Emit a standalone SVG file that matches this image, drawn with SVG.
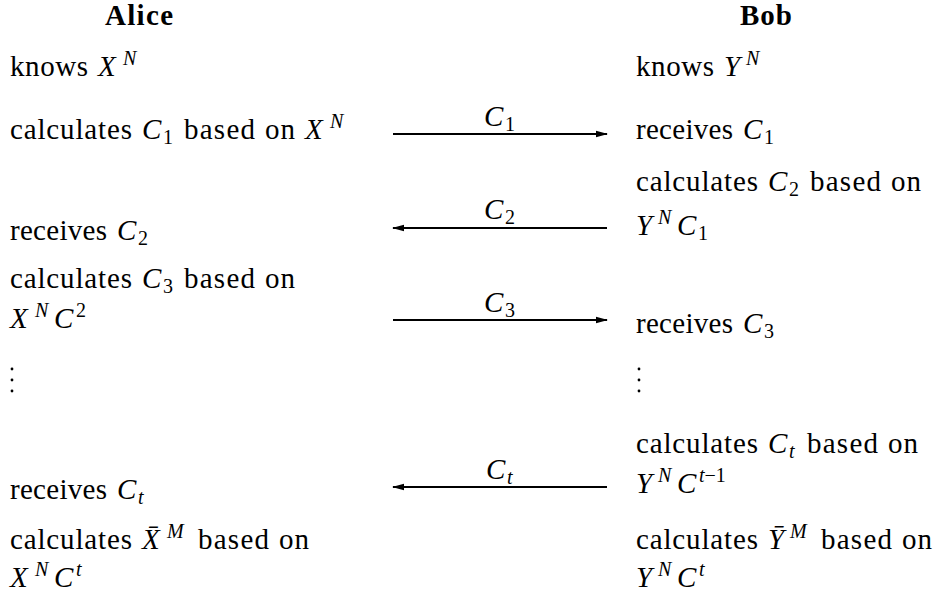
<svg xmlns="http://www.w3.org/2000/svg" width="943" height="592" viewBox="0 0 943 592">
<style>
text{font-size:29px;fill:#000}
.b{font-weight:bold}
.i{font-style:italic}
.s{font-size:20px}
.c{stroke:#000;stroke-width:2;fill:none}
</style>
<defs>
<marker id="ah" viewBox="0 0 12 8" refX="11" refY="4" markerWidth="12" markerHeight="8" markerUnits="userSpaceOnUse" orient="auto">
<path d="M0,0.8 L12,4 L0,7.2 Z" fill="#000"/>
</marker>
</defs>
<rect width="943" height="592" fill="#fff"/>
<g font-family="Liberation Serif, serif">
<g id="alice-header"><text class="b" x="139" y="25" text-anchor="middle" textLength="68">Alice</text></g>
<g id="bob-header"><text class="b" x="766" y="25" text-anchor="middle" textLength="52">Bob</text></g>

<g id="alice-knows"><text y="76"><tspan x="10" textLength="78">knows</tspan><tspan class="i" x="98">X</tspan><tspan class="i s" x="123" y="65">N</tspan></text></g>
<g id="bob-knows"><text y="76"><tspan x="636" textLength="78">knows</tspan><tspan class="i" x="724">Y</tspan><tspan class="i s" x="746" y="65">N</tspan></text></g>

<g id="alice-calc1"><text y="139"><tspan x="10" textLength="122">calculates</tspan><tspan class="i" x="142">C</tspan><tspan class="s" x="163" y="143.5">1</tspan><tspan x="184" y="139" textLength="71">based</tspan><tspan x="265" textLength="30">on</tspan><tspan class="i" x="305">X</tspan><tspan class="i s" x="330" y="128">N</tspan></text></g>
<g id="bob-recv1"><text y="139"><tspan x="636" textLength="97">receives</tspan><tspan class="i" x="743">C</tspan><tspan class="s" x="764" y="143.5">1</tspan></text></g>

<g id="bob-calc2"><text y="191"><tspan x="636" textLength="122">calculates</tspan><tspan class="i" x="768">C</tspan><tspan class="s" x="789" y="195.5">2</tspan><tspan x="810" y="191" textLength="71">based</tspan><tspan x="891" textLength="30">on</tspan></text>
<text y="235"><tspan class="i" x="636">Y</tspan><tspan class="i s" x="658" y="224">N</tspan><tspan class="i" x="677" y="235">C</tspan><tspan class="s" x="698" y="239.5">1</tspan></text></g>
<g id="alice-recv2"><text y="240"><tspan x="10" textLength="97">receives</tspan><tspan class="i" x="117">C</tspan><tspan class="s" x="138" y="244.5">2</tspan></text></g>

<g id="alice-calc3"><text y="288"><tspan x="10" textLength="122">calculates</tspan><tspan class="i" x="142">C</tspan><tspan class="s" x="163" y="292.5">3</tspan><tspan x="184" y="288" textLength="71">based</tspan><tspan x="265" textLength="30">on</tspan></text>
<text y="328"><tspan class="i" x="10">X</tspan><tspan class="i s" x="35" y="317">N</tspan><tspan class="i" x="54" y="328">C</tspan><tspan class="s" x="76" y="317">2</tspan></text></g>
<g id="bob-recv3"><text y="333"><tspan x="636" textLength="97">receives</tspan><tspan class="i" x="743">C</tspan><tspan class="s" x="764" y="337.5">3</tspan></text></g>

<g id="alice-dots"><circle cx="12" cy="369" r="1.4"/><circle cx="12" cy="380" r="1.4"/><circle cx="12" cy="391" r="1.4"/></g>
<g id="bob-dots"><circle cx="639" cy="369" r="1.4"/><circle cx="639" cy="380" r="1.4"/><circle cx="639" cy="391" r="1.4"/></g>

<g id="bob-calct"><text y="453"><tspan x="636" textLength="122">calculates</tspan><tspan class="i" x="768">C</tspan><tspan class="i s" x="789" y="457.5">t</tspan><tspan x="807" y="453" textLength="71">based</tspan><tspan x="888" textLength="30">on</tspan></text>
<text y="493"><tspan class="i" x="636">Y</tspan><tspan class="i s" x="658" y="482">N</tspan><tspan class="i" x="677" y="493">C</tspan><tspan class="i s" x="699" y="482">t</tspan><tspan class="s">−1</tspan></text></g>
<g id="alice-recvt"><text y="499"><tspan x="10" textLength="97">receives</tspan><tspan class="i" x="117">C</tspan><tspan class="i s" x="138" y="503.5">t</tspan></text></g>

<g id="alice-final"><text y="549"><tspan x="10" textLength="122">calculates</tspan><tspan class="i" x="142">X&#x0304;</tspan><tspan class="i s" x="167" y="538">M</tspan><tspan x="198" y="549" textLength="71">based</tspan><tspan x="279" textLength="30">on</tspan></text>
<text y="587"><tspan class="i" x="10">X</tspan><tspan class="i s" x="35" y="576">N</tspan><tspan class="i" x="54" y="587">C</tspan><tspan class="i s" x="76" y="576">t</tspan></text></g>
<g id="bob-final"><text y="549"><tspan x="636" textLength="122">calculates</tspan><tspan class="i" x="768">Y&#x0304;</tspan><tspan class="i s" x="790" y="538">M</tspan><tspan x="821" y="549" textLength="71">based</tspan><tspan x="902" textLength="30">on</tspan></text>
<text y="587"><tspan class="i" x="636">Y</tspan><tspan class="i s" x="658" y="576">N</tspan><tspan class="i" x="677" y="587">C</tspan><tspan class="i s" x="699" y="576">t</tspan></text></g>

<g id="connectors">
<line class="c" x1="393" y1="134" x2="607" y2="134" marker-end="url(#ah)"/>
<line class="c" x1="607" y1="228" x2="393" y2="228" marker-end="url(#ah)"/>
<line class="c" x1="393" y1="320" x2="607" y2="320" marker-end="url(#ah)"/>
<line class="c" x1="607" y1="487" x2="393" y2="487" marker-end="url(#ah)"/>
<text y="126"><tspan class="i" x="484">C</tspan><tspan class="s" x="505" y="130.5">1</tspan></text>
<text y="219"><tspan class="i" x="484">C</tspan><tspan class="s" x="505" y="223.5">2</tspan></text>
<text y="312"><tspan class="i" x="484">C</tspan><tspan class="s" x="505" y="316.5">3</tspan></text>
<text y="479"><tspan class="i" x="486">C</tspan><tspan class="i s" x="507" y="483.5">t</tspan></text>
</g>
</g>
</svg>
